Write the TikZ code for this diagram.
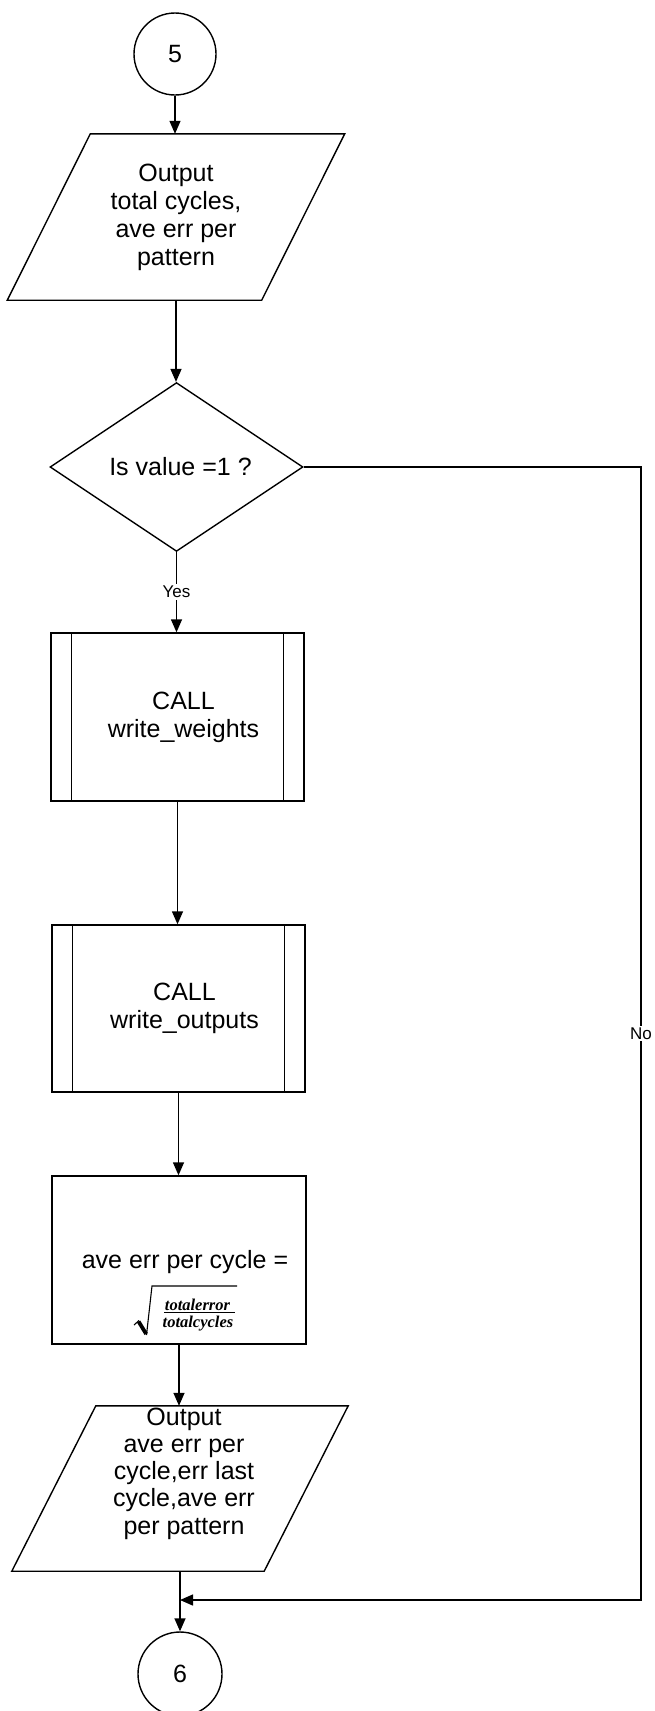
\documentclass[tikz,border=0pt]{standalone}
\usepackage{fontspec}
\setmainfont{Liberation Sans}
\newfontfamily\fracfont{Liberation Serif}
\usetikzlibrary{shapes.geometric,arrows.meta}
\begin{document}
\begin{tikzpicture}[x=1pt,y=-1pt,
  every node/.style={font=\fontsize{25}{28}\selectfont},
  line/.style={line width=1.4pt},
  arr/.style={line width=1.4pt,-{Triangle[length=13pt,width=11pt]}},
  conn/.style={circle,draw,line width=1.4pt,minimum size=82pt,inner sep=0pt},
  proc/.style={rectangle,draw,line width=1.4pt,inner sep=0pt},
  iobox/.style={rectangle,inner sep=0pt,minimum width=254pt,minimum height=166pt},
  decide/.style={diamond,draw,line width=1.4pt,inner sep=0pt,minimum width=253pt,minimum height=168pt},
  lbl/.style={fill=white,inner sep=2pt,font=\fontsize{17}{20}\selectfont},
  fracpart/.style={anchor=base,inner sep=0pt,font=\fontsize{16.5}{18}\selectfont\fracfont\bfseries\itshape}
]
\fill[white] (0,0) rectangle (655,1711);
\useasboundingbox (0,0) rectangle (655,1711);

% connector 5
\node[conn] (c5) at (175,54) {5};

% first output
\node[iobox,align=center] (p1) at (176,217) {Output\\total cycles,\\ave err per\\pattern};
\draw[line] ([xshift=41.5pt]p1.north west) -- ([xshift=41.5pt]p1.north east)
  -- ([xshift=-41.5pt]p1.south east) -- ([xshift=-41.5pt]p1.south west) -- cycle;

% decision
\node[decide] (d) at (176.5,467) {\hspace*{8pt}Is value =1 ?};

% subroutine calls
\node[proc,minimum width=253pt,minimum height=168pt] (b1) at (177.5,717) {};
\draw[line] ([xshift=21pt]b1.north west) -- ([xshift=21pt]b1.south west);
\draw[line] ([xshift=-21pt]b1.north east) -- ([xshift=-21pt]b1.south east);
\node[align=center] (b1t) at ([xshift=6pt]b1.center) {CALL\\write\_weights};

\node[proc,minimum width=253pt,minimum height=167pt] (b2) at (178.5,1008.5) {};
\draw[line] ([xshift=21pt]b2.north west) -- ([xshift=21pt]b2.south west);
\draw[line] ([xshift=-21pt]b2.north east) -- ([xshift=-21pt]b2.south east);
\node[align=center] (b2t) at ([xshift=6pt]b2.center) {CALL\\write\_outputs};

% average error computation
\node[proc,minimum width=254pt,minimum height=168pt] (b3) at (179,1260) {};
\node (f1) at (185,1262) {ave err per cycle =};
% square root of totalerror / totalcycles
\node[fracpart] (fn) at (197.5,1310.5) {totalerror};
\node[fracpart] (fd) at (198,1327) {totalcycles};
\draw[line width=0.9pt] (164,1312.6) -- (235,1312.6);
\draw[line width=1.1pt] (237,1286) -- (152,1286) -- (146.5,1335);
\draw[line width=3.8pt] (138.6,1321.5) -- (146.2,1334);
\draw[line width=1.1pt] (134,1325) -- (139,1320.5);

% second output
\node[iobox,minimum width=252pt,minimum height=165pt] (p2) at (180,1488.5) {};
\draw[line] ([xshift=42pt]p2.north west) -- ([xshift=42pt]p2.north east)
  -- ([xshift=-42pt]p2.south east) -- ([xshift=-42pt]p2.south west) -- cycle;
\node[align=center,font=\fontsize{25}{27.2}\selectfont] (p2t) at (184,1473.5)
  {Output\\ave err per\\cycle,err last\\cycle,ave err\\per pattern};

% connector 6
\node[conn,minimum size=84pt] (c6) at (180,1674) {6};

% flow
\draw[arr] (c5.south) -- (c5.south |- p1.north);
\draw[arr] (p1.south) -- (p1.south |- d.north);
\draw[arr] (d.south) -- node[lbl] {Yes} (d.south |- b1.north);
\draw[arr] (b1.south) -- (b1.south |- b2.north);
\draw[arr] (b2.south) -- (b2.south |- b3.north);
\draw[arr] (b3.south) -- (b3.south |- p2.north);
\draw[arr] (p2.south) -- (p2.south |- c6.north);

% "No" branch
\coordinate (rx) at (641,0);
\coordinate (rb) at (641,1600);
\coordinate (j) at (p2.south |- rb);
\draw[arr] (d.east) -- (d.east -| rx) -- node[lbl] {No} (rb) -- (j);
\end{tikzpicture}
\end{document}
